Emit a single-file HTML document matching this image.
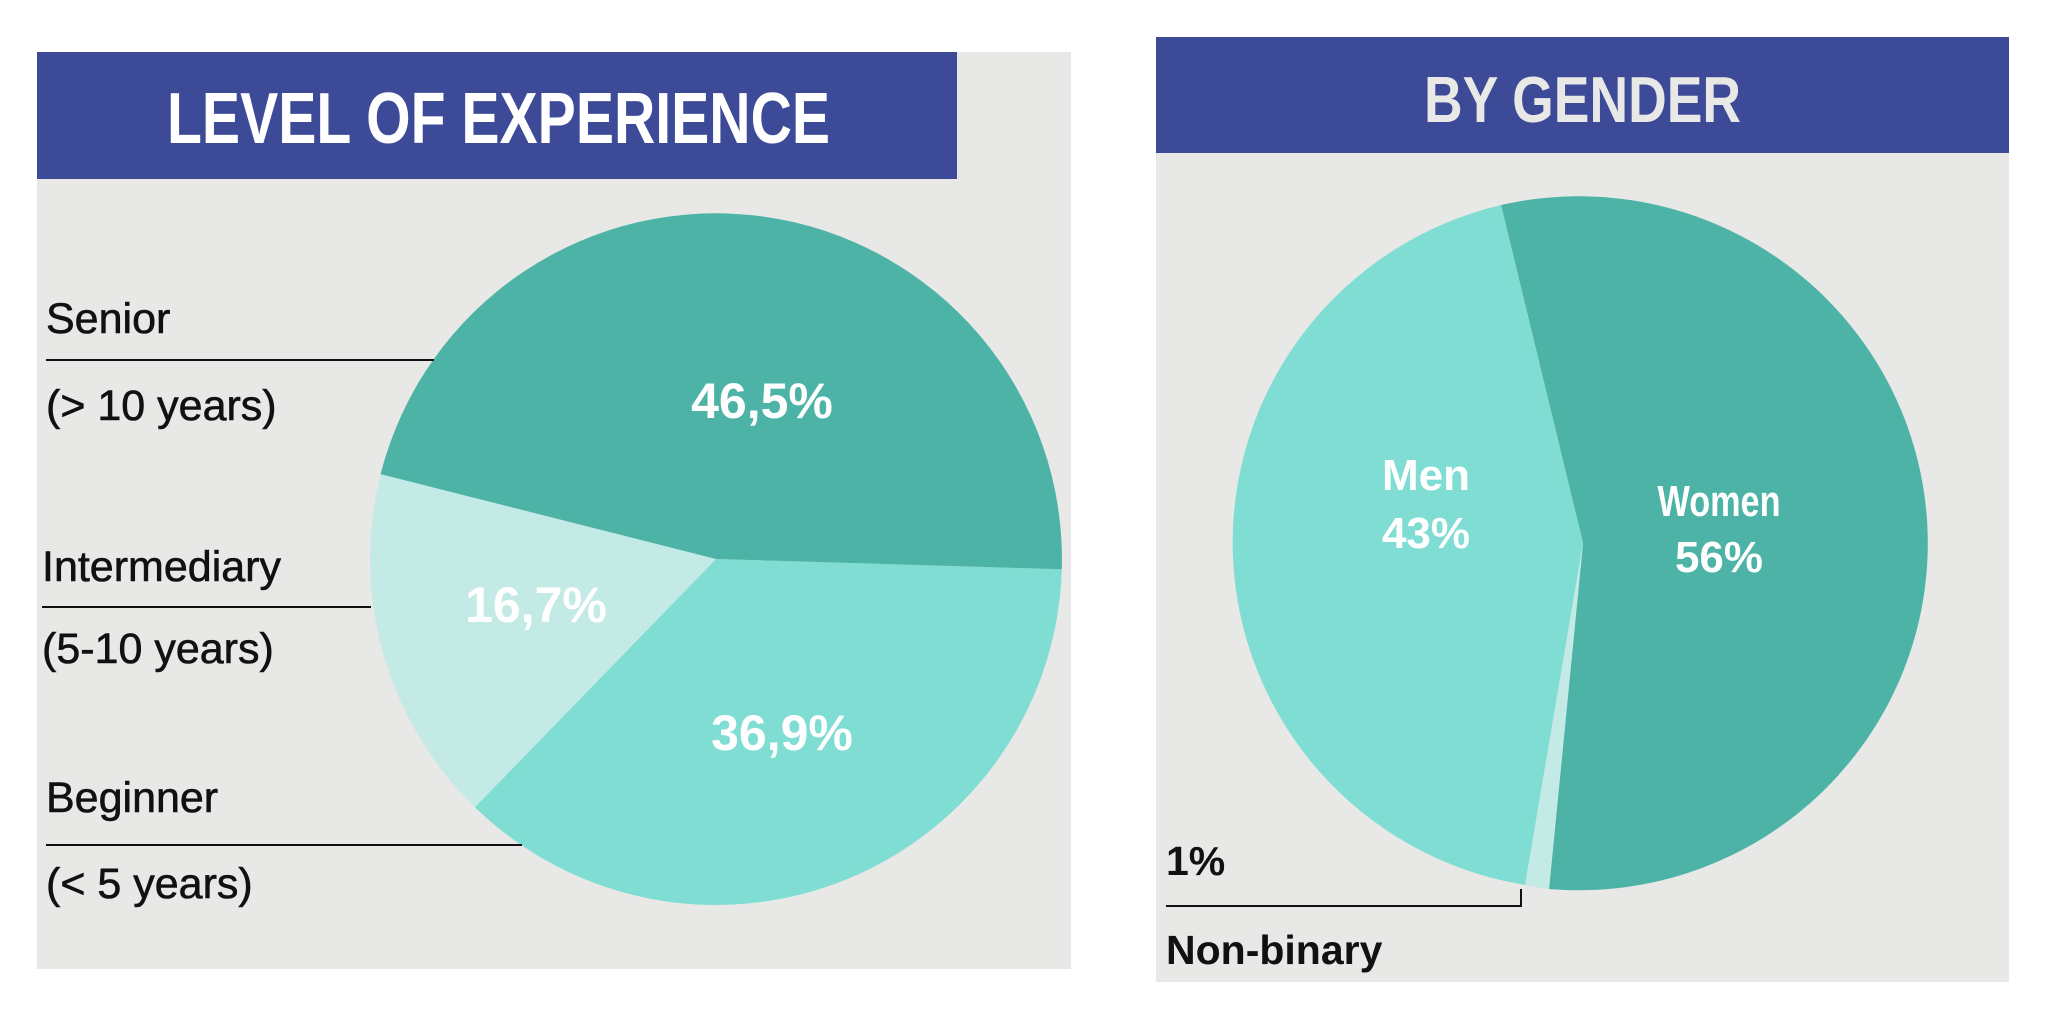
<!DOCTYPE html>
<html><head><meta charset="utf-8"><style>
html,body{margin:0;padding:0;background:#fff;}
svg{display:block;}
</style></head><body>
<svg width="2048" height="1023" viewBox="0 0 2048 1023" xmlns="http://www.w3.org/2000/svg" font-family="Liberation Sans, sans-serif">
<rect width="2048" height="1023" fill="#fff"/>
<!-- left panel -->
<rect x="37" y="52" width="1034" height="917" fill="#e8e8e6"/>
<rect x="37" y="52" width="920" height="127" fill="#3d4a97"/>
<text x="167" y="143" font-size="72" font-weight="bold" fill="#fff" textLength="663" lengthAdjust="spacingAndGlyphs">LEVEL OF EXPERIENCE</text>
<g transform="translate(716,559)">
<path d="M0,0 L345.8,10.3 A346,346 0 0 1 -241.1,248.2 Z" fill="#80ddd3"/>
<path d="M0,0 L-241.1,248.2 A346,346 0 0 1 -335.4,-84.9 Z" fill="#c4eae6"/>
<path d="M0,0 L-335.4,-84.9 A346,346 0 0 1 345.8,10.3 Z" fill="#4db3a6"/>
</g>
<g font-size="50" font-weight="bold" fill="#fff" text-anchor="middle">
<text x="762" y="418">46,5%</text>
<text x="536" y="622">16,7%</text>
<text x="782" y="750">36,9%</text>
</g>
<g font-size="43" fill="#111" stroke="#111" stroke-width="0.6">
<text x="46" y="333">Senior</text>
<text x="46" y="420">(&gt; 10 years)</text>
<text x="42" y="581">Intermediary</text>
<text x="42" y="663">(5-10 years)</text>
<text x="46" y="812">Beginner</text>
<text x="46" y="898">(&lt; 5 years)</text>
</g>
<g stroke="#111" stroke-width="2">
<line x1="46" y1="360" x2="434" y2="360"/>
<line x1="42" y1="607" x2="371" y2="607"/>
<line x1="46" y1="845" x2="522" y2="845"/>
</g>
<!-- right panel -->
<rect x="1156" y="37" width="853" height="945" fill="#e8e8e6"/>
<rect x="1156" y="37" width="853" height="116" fill="#3d4a97"/>
<text x="1424" y="122" font-size="65" font-weight="bold" fill="#e8e8e6" textLength="317" lengthAdjust="spacingAndGlyphs">BY GENDER</text>
<g transform="translate(1583,543)">
<path d="M0,0 L-82,-338 A349,347 0 1 1 -34,346 Z" fill="#4db3a6"/>
<path d="M0,0 L-34,346 A349,347 0 0 1 -58,342 Z" fill="#c4eae6"/>
<path d="M0,0 L-58,342 A349,347 0 0 1 -82,-338 Z" fill="#80ddd3"/>
</g>
<g font-size="44" font-weight="bold" fill="#fff" text-anchor="middle">
<text x="1426" y="490">Men</text>
<text x="1426" y="548">43%</text>
<text x="1719" y="516" textLength="123" lengthAdjust="spacingAndGlyphs">Women</text>
<text x="1719" y="572">56%</text>
</g>
<g font-size="41" font-weight="bold" fill="#111">
<text x="1166" y="875">1%</text>
<text x="1166" y="964">Non-binary</text>
</g>
<polyline points="1166,906 1521,906 1521,889" fill="none" stroke="#111" stroke-width="2"/>
</svg>
</body></html>
